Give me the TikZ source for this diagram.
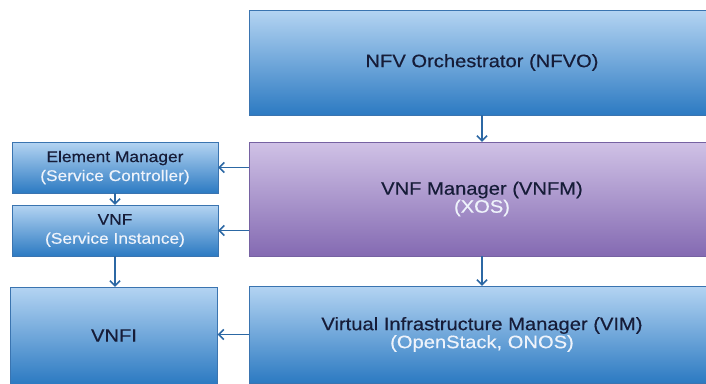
\documentclass[tikz,border=0pt]{standalone}
\usepackage{fontspec}
\setmainfont[FakeStretch=1.12,FakeBold=0.4]{Liberation Sans}
\usetikzlibrary{arrows.meta}
\definecolor{bluetop}{RGB}{180,212,242}
\definecolor{bluebot}{RGB}{44,122,194}
\definecolor{purtop}{RGB}{208,194,230}
\definecolor{purbot}{RGB}{132,106,178}
\definecolor{txtdark}{RGB}{22,28,56}
\definecolor{txtlight}{RGB}{238,243,251}
\definecolor{arrcol}{RGB}{44,104,164}
\definecolor{blueedge}{RGB}{58,116,176}
\definecolor{puredge}{RGB}{118,98,162}
\tikzset{
  bluebox/.style={rectangle, inner sep=0pt, top color=bluetop, bottom color=bluebot,
    draw=blueedge, line width=0.4pt, text=txtdark, align=center},
  purbox/.style={rectangle, inner sep=0pt, top color=purtop, bottom color=purbot,
    draw=puredge, line width=0.4pt, text=txtdark, align=center},
  bigfont/.style={font=\fontsize{18}{18}\selectfont},
  smallfont/.style={font=\fontsize{15.5}{19}\selectfont},
  arr/.style={draw=arrcol, line width=1.8pt, -{Straight Barb[length=5pt,width=10pt,line width=1.6pt]}}
}
\begin{document}
\begin{tikzpicture}[x=1pt,y=-1pt]
\useasboundingbox (0,0) rectangle (706,383);
\clip (0,0) rectangle (706,383);
\node[bluebox, bigfont, minimum width=466pt, minimum height=105pt] (nfvo) at (482,62.5)
  {NFV Orchestrator (NFVO)};
\node[purbox, bigfont, minimum width=466pt, minimum height=114pt] (vnfm) at (482,199)
  {VNF Manager (VNFM)\\\textcolor{txtlight}{(XOS)}};
\node[bluebox, bigfont, minimum width=466pt, minimum height=97pt] (vim) at (482,334.5)
  {Virtual Infrastructure Manager (VIM)\\\textcolor{txtlight}{(OpenStack, ONOS)}};
\node[bluebox, smallfont, minimum width=206pt, minimum height=51pt] (em) at (115,167.5)
  {Element Manager\\\textcolor{txtlight}{(Service Controller)}};
\node[bluebox, smallfont, minimum width=206pt, minimum height=51pt] (vnf) at (115,230.5)
  {VNF\\\textcolor{txtlight}{(Service Instance)}};
\node[bluebox, bigfont, minimum width=207pt, minimum height=97pt] (vnfi) at (114,335.5)
  {VNFI};
\draw[arr] (nfvo.south) -- (vnfm.north);
\draw[arr] (vnfm.south) -- (vim.north);
\draw[arr] (vnfm.west |- em.east) -- (em.east);
\draw[arr] (vnfm.west |- vnf.east) -- (vnf.east);
\draw[arr] (vim.west) -- (vim.west -| vnfi.east);
\draw[arr] (em.south) -- (vnf.north);
\draw[arr] (vnf.south) -- (vnf.south |- vnfi.north);
\end{tikzpicture}
\end{document}
